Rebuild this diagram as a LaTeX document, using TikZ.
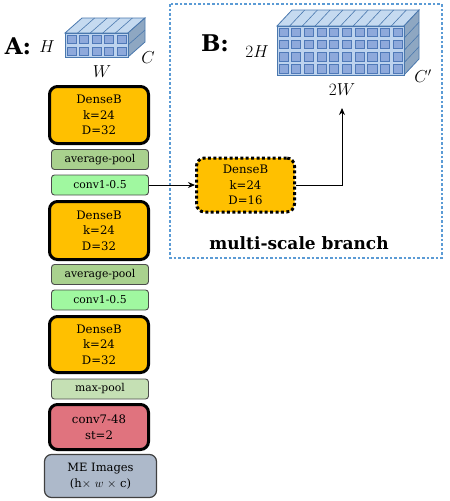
\documentclass[tikz,border=0pt]{standalone}
\usepackage{fontspec}
\setmainfont{DejaVu Serif}
\usetikzlibrary{arrows.meta}
\definecolor{orangeB}{HTML}{FFC000}
\definecolor{avgG}{HTML}{A9D18E}
\definecolor{convG}{HTML}{A0F8A0}
\definecolor{maxG}{HTML}{C5E0B4}
\definecolor{redC}{HTML}{E0737E}
\definecolor{meG}{HTML}{ADB9CA}
\definecolor{branchB}{HTML}{5B9BD5}
\definecolor{cubetop}{HTML}{C5DAF0}
\definecolor{cubeside}{HTML}{8EA7C2}
\definecolor{cubeline}{HTML}{4A78AE}
\definecolor{cubegap}{HTML}{BDD3EE}
\definecolor{cubecell}{HTML}{8EA9DB}
\definecolor{cubecellline}{HTML}{4F79B8}
\newcommand\drawcube[8]{%
  \pgfmathsetmacro\cW{#3*#5}%
  \pgfmathsetmacro\cH{#4*#6}%
  \pgfmathtruncatemacro\nA{#3-1}%
  \pgfmathtruncatemacro\mA{#4-1}%
  \filldraw[fill=cubetop, draw=cubeline, line width=0.8pt] (#1,#2) -- ++(#7,-#8) -- ++(\cW,0) -- ++(-#7,#8) -- cycle;
  \filldraw[fill=cubeside, draw=cubeline, line width=0.8pt] (#1+\cW,#2) -- ++(#7,-#8) -- ++(0,\cH) -- ++(-#7,#8) -- cycle;
  \foreach \i in {1,...,\nA} {\draw[cubeline, line width=0.6pt] (#1+\i*#5,#2) -- ++(#7,-#8);}
  \foreach \j in {1,...,\mA} {\draw[cubeline, line width=0.6pt] (#1+\cW,#2+\j*#6) -- ++(#7,-#8);}
  \fill[cubegap] (#1,#2) rectangle ++(\cW,\cH);
  \foreach \i in {0,...,\nA} {\foreach \j in {0,...,\mA} {%
    \filldraw[fill=cubecell, draw=cubecellline, line width=0.5pt] (#1+\i*#5+1.8,#2+\j*#6+1.8) rectangle ++(#5-3.6,#6-3.6);}}
  \draw[cubeline, line width=0.8pt] (#1,#2) rectangle ++(\cW,\cH);
}
\tikzset{
  boxfont/.style={font=\fontsize{11.7}{15.5}\selectfont},
  dense/.style={draw=black, line width=3pt, fill=orangeB, rounded corners=8pt,
    minimum width=99pt, align=center, inner sep=0pt, boxfont},
  thin box/.style={draw=black!70, line width=0.9pt, rounded corners=3pt,
    minimum width=97pt, minimum height=20pt, align=center, inner sep=0pt,
    font=\fontsize{10.8}{13}\selectfont},
  arr/.style={-{Stealth[length=7pt,width=6pt]}, line width=0.9pt, black},
  lbl/.style={font=\fontsize{17}{19}\selectfont, inner sep=0pt},
}
\begin{document}
\begin{tikzpicture}[x=1pt,y=-1pt]
\useasboundingbox (0,0) rectangle (450,501);
% branch frame
\draw[branchB, line width=2.6pt, dash pattern=on 2.6pt off 2pt] (170,4) rectangle (442,258);
% cubes
\drawcube{65}{33}{5}{2}{12.6}{12}{17}{15}
\drawcube{277}{26}{10}{4}{12.7}{12.25}{15}{16}
% labels
\node[font=\bfseries\fontsize{23}{26}\selectfont, inner sep=0pt] (labA) at (18,46) {A:};
\node[font=\bfseries\fontsize{23}{26}\selectfont, inner sep=0pt] (labB) at (215,43) {B:};
\node[lbl] (lH) at (47,47) {$H$};
\node[lbl] (lW) at (102,72) {$W$};
\node[lbl] (lC) at (148,58) {$C$};
\node[lbl] (l2H) at (257,52) {$2H$};
\node[lbl] (l2W) at (342,90) {$2W$};
\node[lbl] (lCp) at (423,76) {$C'$};
% column A
\node[dense, minimum height=57pt] (d1) at (99,115) {DenseB\\k=24\\D=32};
\node[thin box, fill=avgG] (ap1) at (100,159.5) {average-pool};
\node[thin box, fill=convG] (c1) at (100,185) {conv1-0.5};
\node[dense, minimum height=58pt] (d2) at (99,230.5) {DenseB\\k=24\\D=32};
\node[thin box, fill=avgG] (ap2) at (100,274.5) {average-pool};
\node[thin box, fill=convG] (c2) at (100,300) {conv1-0.5};
\node[dense, minimum height=56pt] (d3) at (99,344.5) {DenseB\\k=24\\D=32};
\node[thin box, fill=maxG] (mp) at (100,389) {max-pool};
\node[dense, fill=redC, minimum height=45pt] (cv7) at (99,427) {conv7-48\\st=2};
\node[draw=black!75, line width=1.2pt, fill=meG, rounded corners=7pt, minimum width=112pt,
  minimum height=43pt, align=center, inner sep=0pt, font=\fontsize{11.5}{16}\selectfont]
  (me) at (100.5,476) {ME Images\\(h$\times$ $w$ $\times$ c)};
% branch
\node[dense, draw=black, dash pattern=on 3pt off 2.4pt, minimum width=98pt, minimum height=54pt] (db) at (245.5,185) {DenseB\\k=24\\D=16};
\node[font=\bfseries\fontsize{17}{20}\selectfont, inner sep=0pt] (ms) at (299,243) {multi-scale branch};
\coordinate (tip) at (342,108);
\draw[arr] (c1.east) -- (db.west);
\draw[arr] (db.east) -| (tip);
\end{tikzpicture}
\end{document}
